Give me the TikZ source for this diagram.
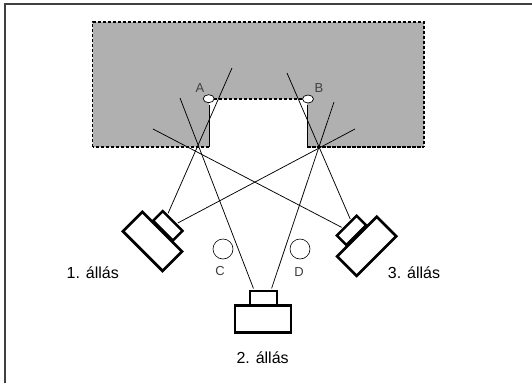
\documentclass[tikz,border=0pt]{standalone}
\usepackage{fontspec}
\setmainfont{Liberation Sans}
\usetikzlibrary{shapes.geometric}
\definecolor{wallgray}{HTML}{B0B0B0}
\definecolor{inkgray}{HTML}{404040}

\begin{document}
\begin{tikzpicture}[x=1pt, y=-1pt,
		body/.style={draw, line width=2.7pt, inner sep=0pt, outer sep=0pt, minimum width=56pt, minimum height=27.5pt},
		lens/.style={draw, line width=2.5pt, inner sep=0pt, outer sep=0pt, minimum width=28pt, minimum height=13.5pt},
		pillar/.style={draw, circle, line width=0.6pt, inner sep=0pt, minimum size=20pt},
		pin/.style={draw, ellipse, fill=white, line width=0.7pt, inner sep=0pt, minimum width=11pt, minimum height=8pt},
		small/.style={inkgray, font=\fontsize{13}{15}\selectfont},
		big/.style={font=\fontsize{16}{18}\selectfont},
		sight/.style={line width=0.75pt, shorten >=2.5pt}]
		\useasboundingbox (0,0) rectangle (532,383);
		\draw[line width=1.5pt, inkgray] (5,383) -- (5,4) -- (532,4);

		\fill[wallgray] (92.5,22) -- (424,22) -- (424,147) -- (307,147) -- (307,99) -- (209,99) -- (209,147) -- (92.5,147) -- cycle;
		\draw[line width=1.1pt, dash pattern=on 3pt off 2pt] (209,99) -- (307,99);
		\draw[line width=1.1pt, dash pattern=on 3pt off 2pt] (92.5,147) -- (92.5,22) -- (424,22) -- (424,147);
		\draw[line width=1.3pt, dash pattern=on 3.5pt off 1.5pt] (209,147) -- (92.5,147);
		\draw[line width=1.3pt, dash pattern=on 3.5pt off 1.5pt] (307,147) -- (424,147);
		\draw[line width=1pt] (209,147) -- (209,105);
		\draw[line width=1pt] (307,147) -- (307,105);

		\node[body, rotate=-45] (body1) at (152.5,241.4) {};
		\node[lens, rotate=-45] (lens1) at (167.8,225.8) {};
		\node[body] (body2) at (263,319) {};
		\node[lens, minimum width=27pt, minimum height=15pt] (lens2) at (263.3,298.3) {};
		\node[body, rotate=45] (body3) at (366.7,246.3) {};
		\node[lens, rotate=45] (lens3) at (351.5,230.4) {};

		\coordinate (far1) at (232,68);
		\coordinate (far2) at (180,98);
		\coordinate (far3) at (153,129);
		\coordinate (far4) at (287,73);
		\coordinate (far5) at (334,102);
		\coordinate (far6) at (355,129);

		\draw[sight] (far1) -- (lens1.139);
		\draw[sight] (far6) -- (lens1.57);
		\draw[sight] (far2) -- (lens2.140);
		\draw[sight] (far5) -- (lens2.45);
		\draw[sight] (far4) -- (lens3.47);
		\draw[sight] (far3) -- (lens3.121);

		\node[pin] (pinA) at (208.7,98.7) {};
		\node[pin] (pinB) at (308,99) {};
		\node[small] (labA) at (200,88) {A};
		\node[small] (labB) at (319,88) {B};

		\node[pillar] (pillarC) at (223,249) {};
		\node[pillar] (pillarD) at (300,249) {};
		\node[small] (labC) at (220,271.5) {C};
		\node[small] (labD) at (299,272) {D};

		\node[big] (pos1) at (92.7,272.7) {1. állás};
		\node[big] (pos2) at (262.6,357.7) {2. állás};
		\node[big] (pos3) at (414,272.7) {3. állás};
	\end{tikzpicture}
\end{document}
